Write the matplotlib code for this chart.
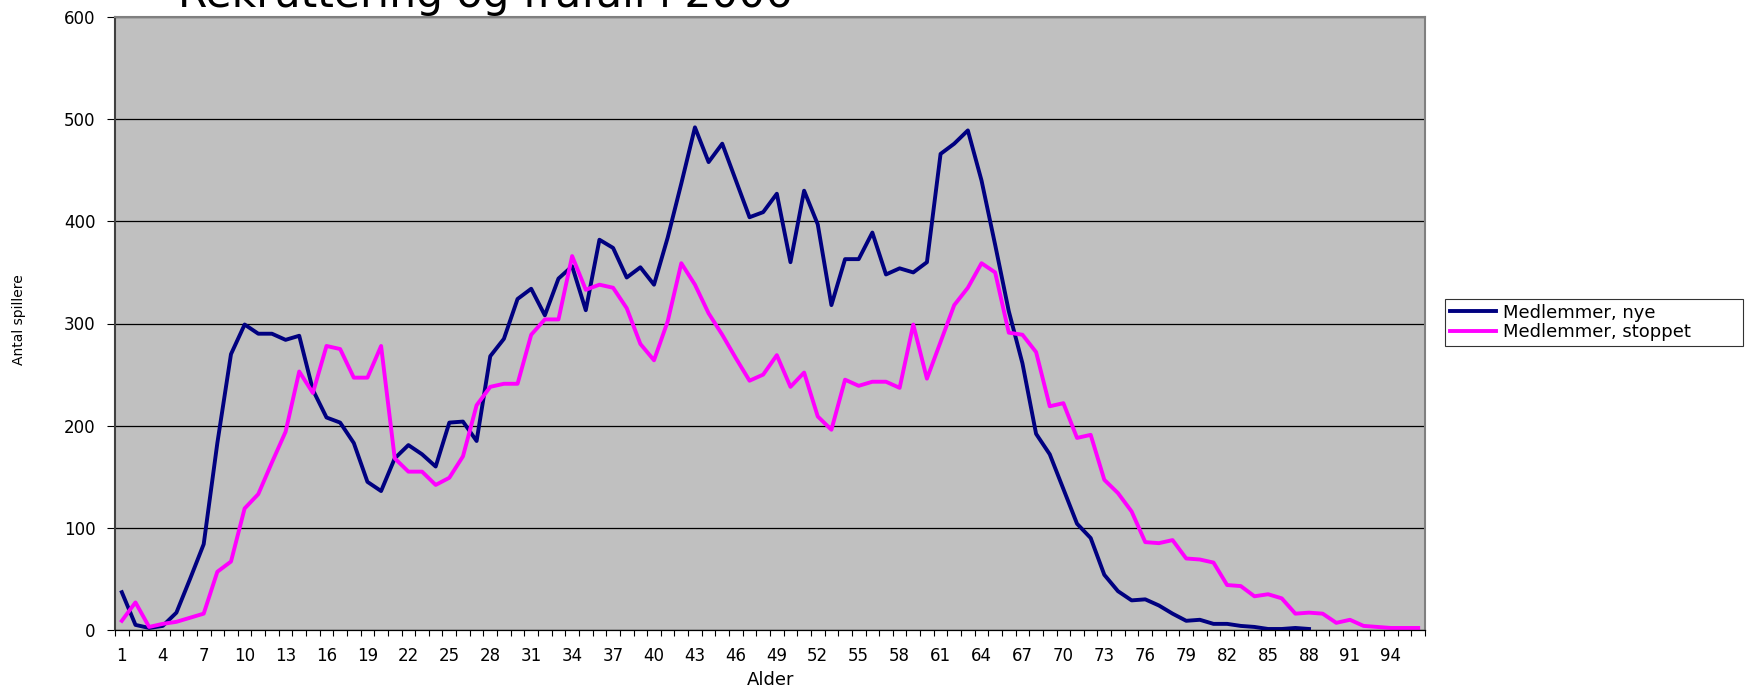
import numpy as np
import matplotlib
matplotlib.use("Agg")
from matplotlib import pyplot as plt

plt.rcParams['font.family'] = ['DejaVu Sans']

# alder 1..96
ages = list(range(1, 97))

nye = [37, 5, 2, 4, 17, 50, 84, 183, 270, 299,
       290, 290, 284, 288, 235, 208, 203, 183, 145, 136,
       168, 181, 172, 160, 203, 204, 185, 268, 285, 324,
       334, 308, 344, 356, 313, 382, 374, 345, 355, 338,
       384, 437, 492, 458, 476, 440, 404, 409, 427, 360,
       430, 397, 318, 363, 363, 389, 348, 354, 350, 360,
       466, 476, 489, 440, 377, 312, 261, 192, 172, 138,
       104, 90, 54, 38, 29, 30, 24, 16, 9, 10,
       6, 6, 4, 3, 1, 1, 2, 1]

stoppet = [9, 27, 3, 6, 8, 12, 16, 57, 67, 119,
           133, 164, 194, 253, 232, 278, 275, 247, 247, 278,
           168, 155, 155, 142, 149, 170, 220, 238, 241, 241,
           289, 304, 304, 366, 333, 338, 335, 315, 280, 264,
           302, 359, 338, 310, 289, 266, 244, 250, 269, 238,
           252, 209, 196, 245, 239, 243, 243, 237, 299, 246,
           282, 318, 335, 359, 350, 291, 289, 272, 219, 222,
           188, 191, 147, 134, 116, 86, 85, 88, 70, 69,
           66, 44, 43, 33, 35, 31, 16, 17, 16, 7,
           10, 4, 3, 2, 2, 2]

W, H = 1749, 689
fig = plt.figure(figsize=(W/100, H/100), dpi=100)
ax = fig.add_axes([115/W, 1-630/H, (1425-115)/W, (630-17)/H])
ax.set_facecolor('#C0C0C0')

ax.plot(ages[:len(nye)], nye, color='#000080', lw=2.8, label='Medlemmer, nye')
ax.plot(ages, stoppet, color='#FF00FF', lw=2.8, label='Medlemmer, stoppet')

ax.set_xlim(0.5, 96.5)
ax.set_ylim(0, 600)
ax.set_yticks(range(0, 601, 100))
ax.yaxis.grid(True, color='black', lw=0.9)
ax.set_axisbelow(True)

# labels every 3rd age, tick marks between categories
ax.set_xticks(ages[::3])
ax.set_xticklabels([str(a) for a in ages[::3]])
ax.set_xticks(np.arange(0.5, 97, 1), minor=True)
ax.tick_params(axis='x', which='major', length=0, pad=12, labelsize=12)
ax.tick_params(axis='x', which='minor', length=4, width=0.8, direction='out')
ax.tick_params(axis='y', length=6, width=0.8, labelsize=12, pad=8)

for s in ['left', 'bottom']:
    ax.spines[s].set_color('black')
    ax.spines[s].set_linewidth(0.9)
ax.spines['left'].set_color('#404040')
ax.spines['left'].set_linewidth(1.5)
for s in ['top', 'right']:
    ax.spines[s].set_color('#808080')
    ax.spines[s].set_linewidth(1.5)

fig.text(771/W, 1-685/H, 'Alder', fontsize=13, ha='center', va='baseline')
fig.text(19/W, 1-320/H, 'Antal spillere', fontsize=10, rotation=90,
         ha='center', va='center')

fig.text(178/W, 1-7/H, 'Rekruttering og frafall i 2006', fontsize=30.5, va='baseline')

leg = fig.legend(loc='upper left', bbox_to_anchor=(1445/W, 1-347/H, 298/W, 48/H),
                 bbox_transform=fig.transFigure, mode='expand', fontsize=13,
                 frameon=True, fancybox=False, edgecolor='black', borderaxespad=0,
                 handlelength=2.55, handletextpad=0.4, borderpad=0.25,
                 labelspacing=0.1)
leg.get_frame().set_linewidth(0.8)

fig.savefig('out.png', dpi=100)
